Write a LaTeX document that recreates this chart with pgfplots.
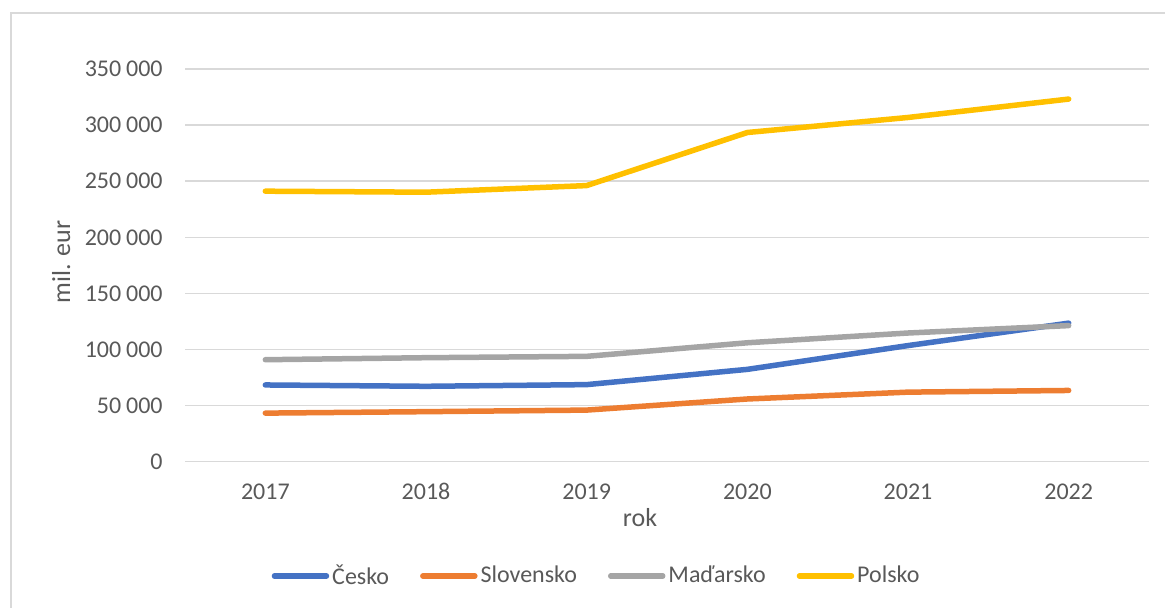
\documentclass[border=0pt]{standalone}
\usepackage{fontspec}
\setmainfont{Carlito}
\usepackage{pgfplots}
\pgfplotsset{compat=1.18}
\definecolor{txt}{HTML}{595959}
\definecolor{gridc}{HTML}{D9D9D9}
\definecolor{cz}{HTML}{4472C4}
\definecolor{sk}{HTML}{ED7D31}
\definecolor{hu}{HTML}{A5A5A5}
\definecolor{pl}{HTML}{FFC000}
\newcommand{\ts}{\hspace{0.2em}}

\begin{document}
\begin{tikzpicture}
% page: 1165x608 px at 0.5pt per px
\useasboundingbox (0,0) rectangle (582.5pt,-304pt);
\draw[gridc, line width=0.6pt] (5.5pt,-304pt) -- (5.5pt,-6.5pt) -- (582.5pt,-6.5pt);
\begin{axis}[
  at={(92.5pt,-230.85pt)}, anchor=south west,
  scale only axis,
  width=482pt, height=196.35pt,
  xmin=2016.5, xmax=2022.5,
  ymin=0, ymax=350000,
  xtick={2017,2018,2019,2020,2021,2022},
  xticklabels={2017,2018,2019,2020,2021,2022},
  ytick={0,50000,100000,150000,200000,250000,300000,350000},
  yticklabels={0,50\ts000,100\ts000,150\ts000,200\ts000,250\ts000,300\ts000,350\ts000},
  scaled y ticks=false,
  major tick length=0pt,
  axis line style={draw=none},
  ymajorgrids=true,
  grid style={gridc, line width=0.75pt},
  tick label style={font=\fontsize{12}{14}\selectfont, text=txt},
  xticklabel style={anchor=center, inner sep=0pt, yshift=-15pt},
  yticklabel style={anchor=east, inner sep=0pt, xshift=-11pt},
  xlabel={rok},
  ylabel={mil. eur},
  label style={font=\fontsize{13}{15}\selectfont, text=txt},
  xlabel style={at={(rel axis cs:0.472,-0.1655)}, anchor=base, inner sep=0pt},
  ylabel style={at={(rel axis cs:-0.1193,0.508)}, anchor=base, inner sep=0pt},
  legend columns=4,
  legend cell align=left,
  legend style={draw=none, fill=none, at={(rel axis cs:0.428,-0.291)}, anchor=center,
    font=\fontsize{12}{14}\selectfont, text=txt,
    /tikz/every odd column/.append style={column sep=-0.5pt},
    /tikz/every even column/.append style={column sep=13.5pt}},
  legend image code/.code={\draw[#1, line cap=round] (0pt,0pt) -- (26pt,0pt);},
  every axis plot/.append style={line width=2.75pt, line join=round, line cap=round, mark=none},
]
\addplot[cz] coordinates {(2017,68400) (2018,67200) (2019,68700) (2020,82300) (2021,103500) (2022,123500)};
\addlegendentry{Česko}
\addplot[sk] coordinates {(2017,43300) (2018,44600) (2019,46000) (2020,55900) (2021,62000) (2022,63500)};
\addlegendentry{Slovensko}
\addplot[hu] coordinates {(2017,90900) (2018,92700) (2019,93900) (2020,106000) (2021,114700) (2022,121300)};
\addlegendentry{Maďarsko}
\addplot[pl] coordinates {(2017,241100) (2018,240200) (2019,246100) (2020,293400) (2021,306800) (2022,323200)};
\addlegendentry{Polsko}
\end{axis}
\end{tikzpicture}
\end{document}
